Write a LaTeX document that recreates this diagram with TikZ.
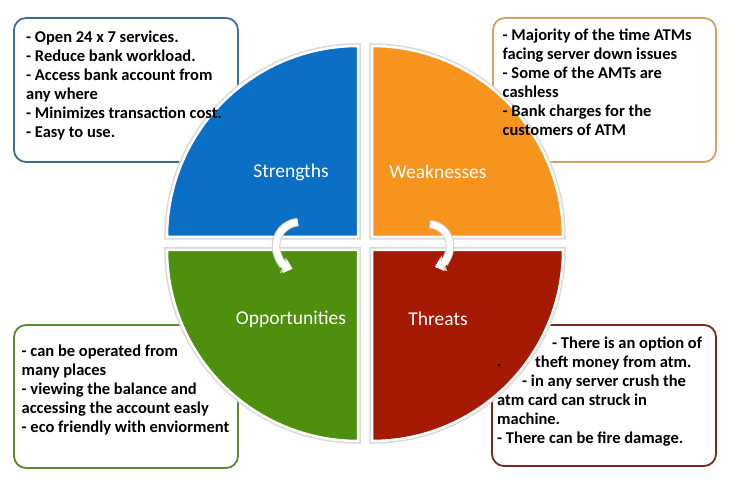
\documentclass[tikz,border=0pt]{standalone}
\usepackage{fontspec}
\setmainfont{Carlito}
\usetikzlibrary{arrows.meta}
\definecolor{qblue}{RGB}{11,111,197}
\definecolor{qorange}{RGB}{247,148,30}
\definecolor{qgreen}{RGB}{78,143,14}
\definecolor{qred}{RGB}{166,25,2}
\definecolor{bblue}{RGB}{62,110,151}
\definecolor{borange}{RGB}{214,162,95}
\definecolor{bgreen}{RGB}{92,138,43}
\definecolor{bred}{RGB}{122,42,34}
\definecolor{arrowedge}{RGB}{215,205,208}
\begin{document}
\begin{tikzpicture}[x=1pt,y=1pt,
  infobox/.style={fill=white, rounded corners=12pt, line width=1.8pt},
  quad/.style={fill=#1, draw=white, line width=2.5pt, preaction={draw=black!15, line width=5.5pt}},
  qlabel/.style={text=white, font=\fontsize{19.5}{22}\selectfont, inner sep=0pt},
  txt/.style={anchor=base west, inner sep=0pt, font=\fontsize{16.5}{19}\selectfont\bfseries},
  cyc/.style={line width=6.5pt, white, line cap=butt},
  cycb/.style={line width=8.5pt, arrowedge, line cap=butt}
]
\useasboundingbox (0,0) rectangle (736,486);
\fill[white] (0,0) rectangle (736,486);

% boxes
\draw[infobox, draw=bblue] (14,468) rectangle (238,324);
\draw[infobox, draw=borange] (493,468) rectangle (716,324);
\draw[infobox, draw=bgreen] (14,161) rectangle (238,18);
\draw[infobox, draw=bred] (492,161) rectangle (716,20);

% quadrants
\draw[quad=qblue] (358,249) -- ++(-191,0) arc[start angle=180,end angle=90,radius=191] -- cycle;
\draw[quad=qorange] (372,249) -- ++(191,0) arc[start angle=0,end angle=90,radius=191] -- cycle;
\draw[quad=qgreen] (358,236) -- ++(-191,0) arc[start angle=180,end angle=270,radius=191] -- cycle;
\draw[quad=qred] (372,236) -- ++(191,0) arc[start angle=0,end angle=-90,radius=191] -- cycle;

% cycle arrows
\draw[cycb, -{Triangle[length=9.5pt,width=16pt]}] (300,240) ++(95:24) arc[start angle=95,end angle=250,radius=24];
\draw[cyc, -{Triangle[length=8pt,width=13.5pt]}] (300,240) ++(95:24) arc[start angle=95,end angle=252,radius=24];
\draw[cycb, -{Triangle[length=9.5pt,width=16pt]}] (428,240) ++(85:22) arc[start angle=85,end angle=-70,radius=22];
\draw[cyc, -{Triangle[length=8pt,width=13.5pt]}] (428,240) ++(85:22) arc[start angle=85,end angle=-72,radius=22];

% labels
\node[qlabel] (s) at (291,314) {Strengths};
\node[qlabel] (w) at (438,314) {Weaknesses};
\node[qlabel] (o) at (291,167) {Opportunities};
\node[qlabel] (t) at (438,167) {Threats};

% TL text
\node[txt] (tl1) at (26,443.5) {- Open 24 x 7 services.};
\node[txt] (tl2) at (26,424.5) {- Reduce bank workload.};
\node[txt] (tl3) at (26,405.5) {- Access bank account from};
\node[txt] (tl4) at (26,386.5) {any where};
\node[txt] (tl5) at (26,367.5) {- Minimizes transaction cost.};
\node[txt] (tl6) at (26,348.5) {- Easy to use.};

% TR text
\node[txt] (tr1) at (502.5,445.5) {- Majority of the time ATMs};
\node[txt] (tr2) at (502.5,426.5) {facing server down issues};
\node[txt] (tr3) at (502.5,407.5) {- Some of the AMTs are};
\node[txt] (tr4) at (502.5,388.5) {cashless};
\node[txt] (tr5) at (502.5,369.5) {- Bank charges for the};
\node[txt] (tr6) at (502.5,350.5) {customers of ATM};

% BL text
\node[txt] (bl1) at (21.5,129) {- can be operated from};
\node[txt] (bl2) at (21.5,110) {many places};
\node[txt] (bl3) at (21.5,91) {- viewing the balance and};
\node[txt] (bl4) at (21.5,72) {accessing the account easly};
\node[txt] (bl5) at (21.5,53) {- eco friendly with enviorment};

% BR text
\node[txt] (br1) at (552,137.5) {- There is an option of};
\node[txt] (br2a) at (497,119.5) {.};
\node[txt] (br2) at (535,118.5) {theft money from atm.};
\node[txt] (br3) at (522,99.5) {- in any server crush the};
\node[txt] (br4) at (497,80.5) {atm card can struck in};
\node[txt] (br5) at (497,61.5) {machine.};
\node[txt] (br6) at (497,42.5) {- There can be fire damage.};
\end{tikzpicture}
\end{document}
